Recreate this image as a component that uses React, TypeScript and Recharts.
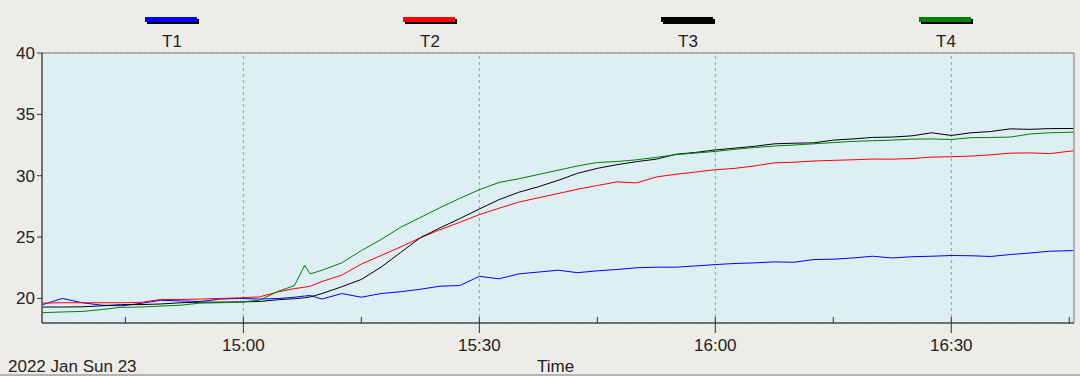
import { LineChart, Line, XAxis, YAxis, CartesianGrid, ReferenceLine, ReferenceArea } from "recharts"

// minutes since midnight (15:00 = 900)
const TIMES = [
  874.5, 877, 879.5, 882, 884.5, 887, 889.5, 892, 894.5, 897, 899.5, 902, 904.5, 906.5, 907.8, 908.5, 910,
  912.5, 915, 917.5, 920, 922.5, 925, 927.5, 930, 932.5, 935, 937.5, 940, 942.5, 945, 947.5, 950, 952.5,
  955, 957.5, 960, 962.5, 965, 967.5, 970, 972.5, 975, 977.5, 980, 982.5, 985, 987.5, 990, 992.5, 995,
  997.5, 1000, 1002.5, 1005.5,
]

const T1 = [
  19.5, 20.0, 19.65, 19.45, 19.4, 19.6, 19.85, 19.8, 19.75, 19.95, 20.0, 19.95, 20.0, 20.1, 20.2, 20.24, 19.95,
  20.4, 20.1, 20.4, 20.55, 20.75, 21.0, 21.05, 21.8, 21.6, 22.0, 22.15, 22.3, 22.1, 22.25, 22.36, 22.5, 22.55,
  22.55, 22.65, 22.76, 22.85, 22.9, 22.98, 22.95, 23.17, 23.2, 23.3, 23.44, 23.3, 23.4, 23.44, 23.5, 23.48, 23.42,
  23.58, 23.7, 23.85, 23.9,
]

const T2 = [
  19.62, 19.65, 19.65, 19.65, 19.65, 19.68, 19.92, 19.92, 19.95, 20.0, 20.05, 20.12, 20.55, 20.8, 20.92, 21.0, 21.38,
  21.9, 22.8, 23.5, 24.2, 24.95, 25.6, 26.2, 26.83, 27.35, 27.85, 28.2, 28.55, 28.9, 29.2, 29.5, 29.42, 29.9,
  30.12, 30.3, 30.49, 30.6, 30.8, 31.05, 31.1, 31.2, 31.25, 31.3, 31.36, 31.35, 31.4, 31.52, 31.55, 31.6, 31.7,
  31.84, 31.86, 31.8, 32.03,
]

const T3 = [
  19.3, 19.3, 19.32, 19.4, 19.5, 19.5, 19.55, 19.65, 19.7, 19.7, 19.72, 19.75, 19.9, 19.98, 20.05, 20.13, 20.4,
  20.95, 21.55, 22.55, 23.75, 24.95, 25.75, 26.5, 27.29, 28.05, 28.65, 29.1, 29.62, 30.2, 30.6, 30.9, 31.15, 31.35,
  31.75, 31.9, 32.1, 32.25, 32.4, 32.6, 32.65, 32.68, 32.9, 33.0, 33.12, 33.15, 33.25, 33.5, 33.28, 33.5, 33.6,
  33.82, 33.78, 33.84, 33.85,
]

const T4 = [
  18.84, 18.9, 18.94, 19.1, 19.28, 19.3, 19.38, 19.45, 19.62, 19.65, 19.7, 19.85, 20.6, 21.05, 22.7, 22.0, 22.3,
  22.9, 23.9, 24.8, 25.8, 26.6, 27.4, 28.15, 28.86, 29.45, 29.75, 30.1, 30.45, 30.8, 31.08, 31.16, 31.3, 31.5,
  31.72, 31.85, 31.98, 32.15, 32.3, 32.42, 32.5, 32.6, 32.7, 32.8, 32.85, 32.9, 32.98, 33.0, 32.95, 33.1, 33.12,
  33.15, 33.4, 33.5, 33.55,
]

const SERIES = [
  { key: "T1", color: "#0000ff" },
  { key: "T2", color: "#ff0000" },
  { key: "T3", color: "#000000" },
  { key: "T4", color: "#008000" },
]

const Y_TICKS = [20, 25, 30, 35, 40]
const MAJOR_TICKS = [900, 930, 960, 990]
const MINOR_TICKS = [885, 915, 945, 975, 1005]
const X_DOMAIN = [874.4, 1005.6]
const Y_DOMAIN = [18, 40]

const rows = TIMES.map((t, i) => ({ t, T1: T1[i], T2: T2[i], T3: T3[i], T4: T4[i] }))

const FONT = "Arial, 'Liberation Sans', sans-serif"

const fmt = (m: number) => {
  const h = Math.floor(m / 60)
  const mm = Math.round(m % 60)
  return `${h}:${mm < 10 ? "0" + mm : mm}`
}

function XTick({ x, y, payload }: any) {
  const major = MAJOR_TICKS.includes(payload.value)
  if (!major) {
    return <line x1={x} x2={x} y1={y} y2={y - 6} stroke="#333" />
  }
  return (
    <g>
      <line x1={x} x2={x} y1={y - 6} y2={y + 10} stroke="#333" />
      <text x={x} y={y + 28} textAnchor="middle" fontSize={17} fill="#222" fontFamily={FONT}>
        {fmt(payload.value)}
      </text>
    </g>
  )
}

function YTick({ x, y, payload }: any) {
  return (
    <g>
      <line x1={x - 5} x2={x} y1={y} y2={y} stroke="#333" />
      <text x={x - 7} y={y + 6} textAnchor="end" fontSize={17} fill="#222" fontFamily={FONT}>
        {payload.value}
      </text>
    </g>
  )
}

export default function App() {
  return (
    <div
      style={{
        position: "absolute",
        left: 0,
        top: 0,
        width: 1080,
        height: 376,
        background: "#eeece8",
        fontFamily: FONT,
        overflow: "hidden",
      }}
    >
      {/* legend */}
      {SERIES.map((s, i) => {
        const cx = 172 + i * 258
        return (
          <div key={s.key}>
            <div style={{ position: "absolute", left: cx - 25, top: 19, width: 52, height: 5, background: "#000" }} />
            <div style={{ position: "absolute", left: cx - 27, top: 17, width: 52, height: 5, background: s.color }} />
            <div
              style={{ position: "absolute", left: cx - 30, top: 32, width: 60, textAlign: "center", fontSize: 17, color: "#222" }}
            >
              {s.key}
            </div>
          </div>
        )
      })}

      <div style={{ position: "absolute", left: 0, top: 0 }}>
        <LineChart width={1080} height={376} data={rows} margin={{ top: 53, right: 6, left: 0, bottom: 0 }}>
          <ReferenceArea
            x1={X_DOMAIN[0]}
            x2={X_DOMAIN[1]}
            y1={Y_DOMAIN[0]}
            y2={Y_DOMAIN[1]}
            fill="#deeef5"
            fillOpacity={1}
            stroke="#777"
            ifOverflow="extendDomain"
          />
          <CartesianGrid vertical={false} stroke="#ababab" strokeDasharray="3 3" />
          {MAJOR_TICKS.map((t) => (
            <ReferenceLine key={t} x={t} stroke="#9a9a9a" strokeDasharray="3 3" />
          ))}
          <XAxis
            dataKey="t"
            type="number"
            domain={X_DOMAIN}
            ticks={[...MINOR_TICKS, ...MAJOR_TICKS].sort((a, b) => a - b)}
            allowDataOverflow
            height={53}
            tickSize={0}
            tickMargin={0}
            tickLine={false}
            axisLine={{ stroke: "#333" }}
            tick={<XTick />}
            interval={0}
          />
          <YAxis
            type="number"
            domain={Y_DOMAIN}
            ticks={Y_TICKS}
            allowDataOverflow
            width={42}
            tickSize={0}
            tickMargin={0}
            tickLine={false}
            axisLine={{ stroke: "#333" }}
            tick={<YTick />}
            interval={0}
          />
          {SERIES.map((s) => (
            <Line
              key={s.key}
              type="linear"
              dataKey={s.key}
              stroke={s.color}
              strokeWidth={1}
              dot={false}
              isAnimationActive={false}
            />
          ))}
        </LineChart>
      </div>

      <div style={{ position: "absolute", left: 8, top: 357, fontSize: 17, color: "#222" }}>2022 Jan Sun 23</div>
      <div style={{ position: "absolute", left: 537, top: 357, fontSize: 17, color: "#222" }}>Time</div>
      <div style={{ position: "absolute", left: 0, top: 374, width: 1080, height: 2, background: "#b5b3ae" }} />
    </div>
  )
}
